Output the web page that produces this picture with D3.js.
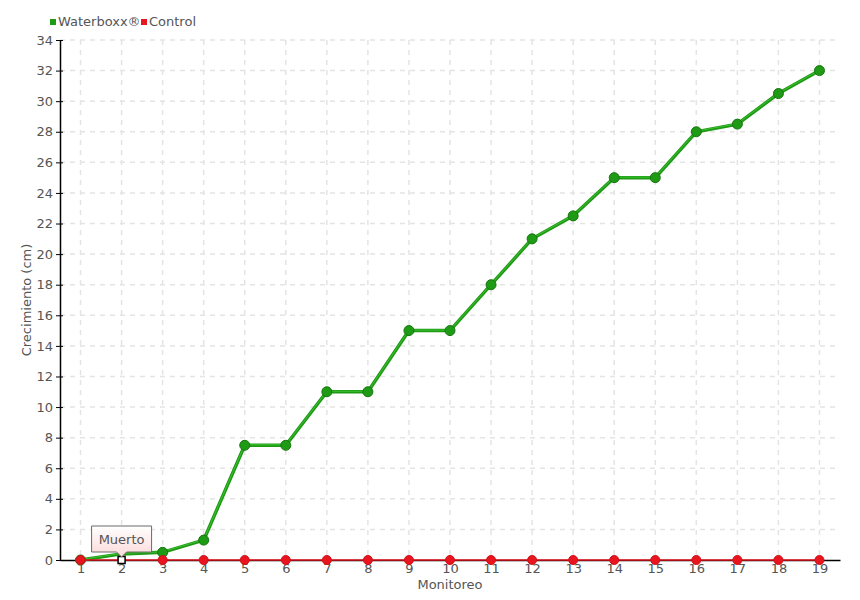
<!DOCTYPE html>
<html>
<head>
<meta charset="utf-8">
<script src="https://cdn.jsdelivr.net/npm/d3@7"></script>
<style>
  body { margin: 0; background: #fff; }
  text { font-family: "DejaVu Sans", sans-serif; fill: #555; }
</style>
</head>
<body>
<div id="chart"></div>
<script>
// data
var monitoreo = [1,2,3,4,5,6,7,8,9,10,11,12,13,14,15,16,17,18,19];
var waterboxx = [0,0.4,0.5,1.3,7.5,7.5,11,11,15,15,18,21,22.5,25,25,28,28.5,30.5,32];
var control = [0,0,0,0,0,0,0,0,0,0,0,0,0,0,0,0,0,0,0];
var yTicks = [0,2,4,6,8,10,12,14,16,18,20,22,24,26,28,30,32,34];
var muertoIndex = 1; // control plant dead at monitoreo 2

var svg_w = 860, svg_h = 600;
var pLeft = 60, pRight = 840, pTop = 40, pBottom = 560;

var svg = d3.select("#chart").append("svg")
    .attr("width", svg_w)
    .attr("height", svg_h);

var defs = svg.append("defs");
var grad = defs.append("linearGradient")
    .attr("id", "tipgrad")
    .attr("x1", 0).attr("y1", 0).attr("x2", 0).attr("y2", 1);
grad.append("stop").attr("offset", "0%").attr("stop-color", "#ffffff");
grad.append("stop").attr("offset", "100%").attr("stop-color", "#fcd9d9");

var xScale = d3.scalePoint()
    .domain(monitoreo)
    .range([pLeft, pRight])
    .padding(0.5);

var yScale = d3.scaleLinear()
    .domain([0, 34])
    .range([pBottom, pTop]);

// grid
svg.append("g").selectAll("line")
    .data(yTicks.slice(1))
    .enter().append("line")
    .attr("x1", pLeft).attr("x2", pRight)
    .attr("y1", function(d) { return yScale(d); })
    .attr("y2", function(d) { return yScale(d); })
    .style("stroke", "#e4e4e4")
    .style("stroke-width", 1.5)
    .style("stroke-dasharray", "5,5");

svg.append("g").selectAll("line")
    .data(monitoreo)
    .enter().append("line")
    .attr("x1", function(d) { return xScale(d); })
    .attr("x2", function(d) { return xScale(d); })
    .attr("y1", pTop).attr("y2", pBottom)
    .style("stroke", "#e4e4e4")
    .style("stroke-width", 1.5)
    .style("stroke-dasharray", "5,5");

// axes
var yAxis = d3.axisLeft(yScale)
    .tickValues(yTicks)
    .tickSize(4)
    .tickSizeOuter(0)
    .tickPadding(3);

var yg = svg.append("g")
    .attr("transform", "translate(" + pLeft + ",0)")
    .call(yAxis);
yg.select(".domain").style("stroke", "#000").style("stroke-width", 1.5);
yg.selectAll(".tick line").style("stroke", "#000").attr("x2", 3).attr("x1", -4);

var xAxis = d3.axisBottom(xScale)
    .tickSize(0)
    .tickPadding(4);

var xg = svg.append("g")
    .attr("transform", "translate(0," + pBottom + ")")
    .call(xAxis);
xg.select(".domain").style("stroke", "#000").style("stroke-width", 1.5);

svg.selectAll("g").attr("font-family", null).attr("font-size", null);
svg.selectAll(".tick text").style("font-size", "13px").style("fill", "#555");

svg.append("text")
    .attr("text-anchor", "middle")
    .attr("transform", "translate(31," + ((pTop + pBottom) / 2) + ") rotate(-90)")
    .style("font-size", "13px")
    .text("Crecimiento (cm)");

svg.append("text")
    .attr("text-anchor", "middle")
    .attr("x", 450).attr("y", 589)
    .style("font-size", "13px")
    .text("Monitoreo");

// lines
var line = d3.line()
    .x(function(d, i) { return xScale(monitoreo[i]); })
    .y(function(d) { return yScale(d); });

svg.append("path")
    .datum(waterboxx)
    .attr("d", line)
    .style("fill", "none")
    .style("stroke", "#1e9a14")
    .style("stroke-width", 3.5);
svg.append("path")
    .datum(waterboxx)
    .attr("d", line)
    .style("fill", "none")
    .style("stroke", "#3cc032")
    .style("stroke-width", 1)
    .attr("transform", "translate(0,-0.5)");

svg.append("path")
    .datum(control)
    .attr("d", line)
    .style("fill", "none")
    .style("stroke", "#e0101c")
    .style("stroke-width", 1.5);

// waterboxx markers (none at the dead point)
var wbPoints = waterboxx.map(function(v, i) { return {v: v, i: i}; })
    .filter(function(d) { return d.i !== muertoIndex; });
svg.append("g").selectAll("circle")
    .data(wbPoints)
    .enter().append("circle")
    .attr("cx", function(d) { return xScale(monitoreo[d.i]); })
    .attr("cy", function(d) { return yScale(d.v); })
    .attr("r", 5)
    .style("fill", "#1e9a14")
    .style("stroke", "#177510")
    .style("stroke-width", 1);

// control markers
var ctPoints = control.map(function(v, i) { return {v: v, i: i}; })
    .filter(function(d) { return d.i !== muertoIndex; });
svg.append("g").selectAll("circle")
    .data(ctPoints)
    .enter().append("circle")
    .attr("cx", function(d) { return xScale(monitoreo[d.i]); })
    .attr("cy", function(d) { return yScale(d.v); })
    .attr("r", 4.5)
    .style("fill", "#e8141e")
    .style("stroke", "#d01018")
    .style("stroke-width", 1);

// dead marker
svg.append("rect")
    .attr("x", xScale(monitoreo[muertoIndex]) - 3.5)
    .attr("y", yScale(control[muertoIndex]) - 3.5)
    .attr("width", 7).attr("height", 7)
    .style("fill", "#fff")
    .style("stroke", "#000")
    .style("stroke-width", 1.5);

// tooltip "Muerto"
var tx = xScale(monitoreo[muertoIndex]);
var ty = yScale(control[muertoIndex]) - 8;
svg.append("path")
    .attr("d", "M" + (tx - 30) + "," + (ty - 26) + " h60 v26 h-25 l-5,5 l-5,-5 h-25 z")
    .style("fill", "url(#tipgrad)")
    .style("stroke", "#6a6a6a")
    .style("stroke-width", 1);
svg.append("text")
    .attr("x", tx).attr("y", ty - 8)
    .attr("text-anchor", "middle")
    .style("font-size", "13px")
    .text("Muerto");

// legend
var legend = [["Waterboxx®", "#1e9a14", 50], ["Control", "#e8141e", 141]];
var lg = svg.append("g").selectAll("g")
    .data(legend)
    .enter().append("g")
    .attr("transform", function(d) { return "translate(" + d[2] + ",0)"; });
lg.append("rect")
    .attr("x", 0).attr("y", 19)
    .attr("width", 6).attr("height", 6)
    .style("fill", function(d) { return d[1]; });
lg.append("text")
    .attr("x", 8).attr("y", 26)
    .style("font-size", "13px")
    .text(function(d) { return d[0]; });
</script>
</body>
</html>
